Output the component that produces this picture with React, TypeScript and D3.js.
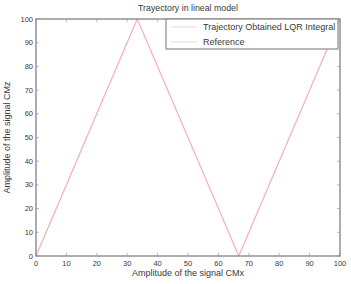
import React, { useRef, useEffect } from 'react';
import * as d3 from 'd3';

// values
const refX = [0, 33.3, 66.7, 100];
const refY = [0, 100, 0, 100];
const trajX = [0, 33.3, 66.7, 100];
const trajY = [0, 100, 0, 100];
const xTicks = [0, 10, 20, 30, 40, 50, 60, 70, 80, 90, 100];
const yTicks = [0, 10, 20, 30, 40, 50, 60, 70, 80, 90, 100];
const legendLabels = ['Trajectory Obtained LQR Integral', 'Reference'];

const W = 351;
const H = 284;
const m = { left: 36, right: 11, top: 19, bottom: 28 };

const App = () => {
  const svgRef = useRef<SVGSVGElement>(null);

  useEffect(() => {
    const svg = d3.select(svgRef.current);
    svg.selectAll('*').remove();

    const x = d3.scaleLinear().domain([0, 100]).range([m.left, W - m.right]);
    const y = d3.scaleLinear().domain([0, 100]).range([H - m.bottom, m.top]);
    const font = 'Liberation Sans, Arial, sans-serif';
    const axisCol = '#8a8a8a';
    const textCol = '#3a3a3a';

    svg.append('rect').attr('width', W).attr('height', H).attr('fill', '#fff');

    // ticks (inward, on all four sides)
    const tl = 3;
    const g = svg.append('g').attr('stroke', '#aaa').attr('stroke-width', 0.8);
    xTicks.forEach((t) => {
      g.append('line').attr('x1', x(t)).attr('x2', x(t)).attr('y1', y(0)).attr('y2', y(0) - tl);
      g.append('line').attr('x1', x(t)).attr('x2', x(t)).attr('y1', y(100)).attr('y2', y(100) + tl);
    });
    yTicks.forEach((t) => {
      g.append('line').attr('x1', x(0)).attr('x2', x(0) + tl).attr('y1', y(t)).attr('y2', y(t));
      g.append('line').attr('x1', x(100)).attr('x2', x(100) - tl).attr('y1', y(t)).attr('y2', y(t));
    });

    const line = d3.line<[number, number]>().x((d) => x(d[0])).y((d) => y(d[1]));
    svg.append('path')
      .datum(refX.map((v, i) => [v, refY[i]] as [number, number]))
      .attr('d', line)
      .attr('fill', 'none')
      .attr('stroke', '#f8d0d4')
      .attr('stroke-width', 1.2);
    svg.append('path')
      .datum(trajX.map((v, i) => [v, trajY[i]] as [number, number]))
      .attr('d', line)
      .attr('fill', 'none')
      .attr('stroke', '#f0aab4')
      .attr('stroke-width', 0.9);

    // box
    svg.append('rect')
      .attr('x', x(0)).attr('y', y(100))
      .attr('width', x(100) - x(0)).attr('height', y(0) - y(100))
      .attr('fill', 'none').attr('stroke', axisCol).attr('stroke-width', 1.4);

    // tick labels
    svg.append('g').selectAll('text').data(xTicks).enter().append('text')
      .attr('x', (d) => x(d)).attr('y', y(0) + 10)
      .attr('text-anchor', 'middle')
      .attr('font-family', font).attr('font-size', 7.5).attr('fill', textCol)
      .text((d) => d);
    svg.append('g').selectAll('text').data(yTicks).enter().append('text')
      .attr('x', x(0) - 3).attr('y', (d) => y(d) + 2.5)
      .attr('text-anchor', 'end')
      .attr('font-family', font).attr('font-size', 7.5).attr('fill', textCol)
      .text((d) => d);

    // title and labels
    svg.append('text')
      .attr('x', (x(0) + x(100)) / 2).attr('y', 11)
      .attr('text-anchor', 'middle')
      .attr('font-family', font).attr('font-size', 8.8).attr('fill', textCol)
      .text('Trayectory in lineal model');
    svg.append('text')
      .attr('x', (x(0) + x(100)) / 2).attr('y', H - 8)
      .attr('text-anchor', 'middle')
      .attr('font-family', font).attr('font-size', 9).attr('fill', textCol)
      .text('Amplitude of the signal CMx');
    svg.append('text')
      .attr('transform', `translate(10, ${(y(0) + y(100)) / 2}) rotate(-90)`)
      .attr('text-anchor', 'middle')
      .attr('font-family', font).attr('font-size', 9).attr('fill', textCol)
      .text('Amplitude of the signal CMz');

    // legend
    const lx = 166;
    const ly = y(100);
    const lw = x(100) - 2 - lx;
    const lh = 30;
    const lg = svg.append('g');
    lg.append('rect')
      .attr('x', lx).attr('y', ly).attr('width', lw).attr('height', lh)
      .attr('fill', '#fff').attr('stroke', axisCol).attr('stroke-width', 1.2);
    const legendCols = ['#e6d6d8', '#e0dcdc'];
    legendLabels.forEach((lab, i) => {
      const yy = ly + 8 + i * 15;
      lg.append('line')
        .attr('x1', lx + 5).attr('x2', lx + 31).attr('y1', yy).attr('y2', yy)
        .attr('stroke', legendCols[i]).attr('stroke-width', 1);
      lg.append('text')
        .attr('x', lx + 37).attr('y', yy + 3)
        .attr('font-family', font).attr('font-size', 9).attr('fill', textCol)
        .text(lab);
    });
  }, []);

  return (
    <svg
      ref={svgRef}
      width={W}
      height={H}
      style={{ position: 'absolute', left: 0, top: 0 }}
    ></svg>
  );
};

export default App;
